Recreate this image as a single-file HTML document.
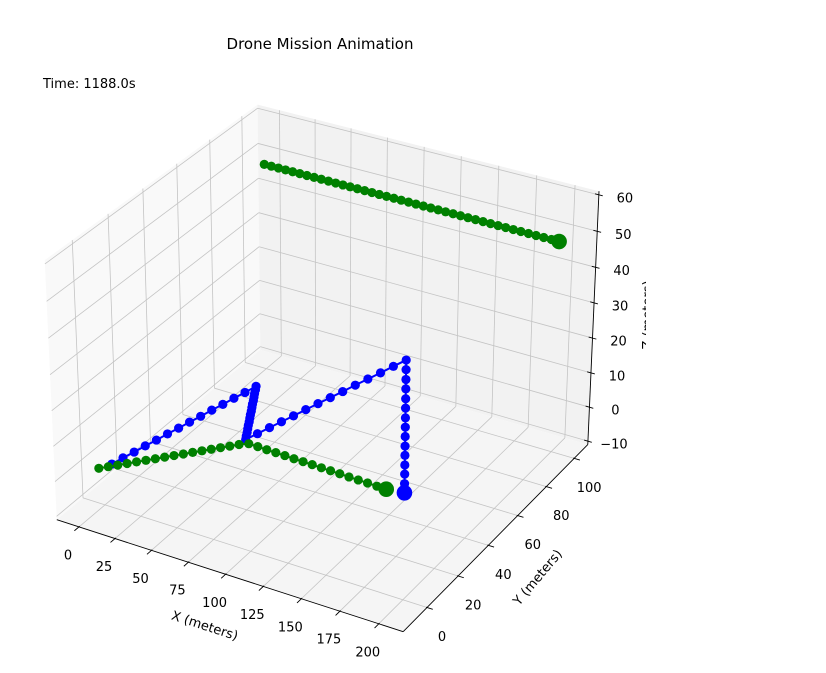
<!DOCTYPE html>
<html><head><meta charset="utf-8"><style>
html,body{margin:0;padding:0;background:#fff;}
svg{display:block;font-family:"DejaVu Sans","Liberation Sans",sans-serif;}
</style></head>
<body>
<svg id="chart" width="826" height="673" viewBox="0 0 826 673" xmlns="http://www.w3.org/2000/svg">
<rect width="826" height="673" fill="#ffffff"/>
<text x="320" y="49" font-size="15" text-anchor="middle" fill="#000">Drone Mission Animation</text>
<text x="43" y="88" font-size="13" fill="#000">Time: 1188.0s</text>
<g id="panes"></g>
<g id="grid"></g>
<g id="axes"></g>
<g id="series"></g>
<defs><clipPath id="zclip"><rect x="0" y="0" width="646" height="673"/></clipPath></defs>
<g clip-path="url(#zclip)"><text x="652" y="315" font-size="13" text-anchor="middle" transform="rotate(-90 652 315)">Z (meters)</text></g>
<text x="205" y="630" font-size="13" text-anchor="middle" transform="rotate(18 205 625)">X (meters)</text>
<text x="537" y="582" font-size="13" text-anchor="middle" transform="rotate(-50 537 577)">Y (meters)</text>
</svg>
<script>
// ---- data ----
const xTicks = [0,25,50,75,100,125,150,175,200];
const yTicks = [0,20,40,60,80,100];
const zTicks = [-10,0,10,20,30,40,50,60];
const xLim = [-15.5, 215.5];
const yLim = [-15, 110];
const zLim = [-11, 61];

const blueX = [2.5,7,11.5,16,20.5,25,29.5,34,38.5,43,47.5,52,56.5,61,
  60.9,60.7,60.6,60.5,60.3,60.2,60.1,59.9,59.8,59.7,59.5,59.4,59.3,59.1,59,
  67.2,75.5,83.7,91.9,100.2,108.4,116.6,124.8,133.1,141.3,149.5,157.8,166,
  166,166,166,166,166,166,166,166,166,166,166,166,166,166];
const blueY = [2.7,5.5,8.3,11.1,13.9,16.7,19.5,22.2,25,27.8,30.6,33.4,36.2,39,
  38.7,38.3,38,37.7,37.3,37,36.7,36.3,36,35.7,35.3,35,34.7,34.3,34,
  34,34,34,34,34,34,34,34,34,34,34,34,34,
  34,34,34,34,34,34,34,34,34,34,34,34,34,34];
const blueZ = [0,1.2,2.3,3.5,4.6,5.8,6.9,8.1,9.2,10.4,11.5,12.7,13.8,15,
  14.1,13.2,12.3,11.4,10.5,9.6,8.7,7.8,6.9,6,5.1,4.2,3.3,2.4,1.5,
  4.2,7,9.7,12.4,15.2,17.9,20.6,23.3,26.1,28.8,31.5,34.3,37,
  34.4,31.7,29.1,26.4,23.8,21.1,18.5,15.9,13.2,10.6,7.9,5.3,2.6,0];

const greenLowX = [-1.5,2.3,6.1,9.9,13.7,17.5,21.3,25.1,28.9,32.7,36.5,40.3,44.1,47.9,51.7,55.5,60,
  66.3,72.7,79,85.3,91.7,98,104.3,110.7,117,123.3,129.7,136,142.3,148.7,155];
const greenLowY = [-1.5,0.8,3.1,5.4,7.7,10,12.3,14.6,16.9,19.2,21.5,23.8,26.1,28.4,30.7,33,35,
  34.9,34.7,34.6,34.5,34.3,34.2,34.1,33.9,33.8,33.7,33.5,33.4,33.3,33.1,33];
const greenLowZ = [0,0,0,0,0,0,0,0,0,0,0,0,0,0,0,0,0,0,0,0,0,0,0,0,0,0,0,0,0,0,0,0];

const greenTopX = [0,5,10,15,20,25,30,35,40,45,50,55,60,65,70,75,80,85,90,95,100,105,110,115,120,125,130,135,140,145,150,155,160,165,170,175,180,185,190,195,200];
const greenTopY = [100,100,100,100,100,100,100,100,100,100,100,100,100,100,100,100,100,100,100,100,100,100,100,100,100,100,100,100,100,100,100,100,100,100,100,100,100,100,100,100,100];
const greenTopZ = [49,49,49,49,49,49,49,49,49,49,49,49,49,49,49,49,49,49,49,49,49,49,49,49,49,49,49,49,49,49,49,49,49,49,49,49,49,49,49,49,49];

// ---- projection (matplotlib-like, elev 30, azim -60, perspective) ----
const AS = [1.1429,1.1429,0.8571];
const el = 30*Math.PI/180, az = -60*Math.PI/180;
const ps = [Math.cos(el)*Math.cos(az), Math.cos(el)*Math.sin(az), Math.sin(el)];
const E = [AS[0]/2+10*ps[0], AS[1]/2+10*ps[1], AS[2]/2+10*ps[2]];
const W = ps;
let U = [-W[1], W[0], 0]; const un = Math.hypot(U[0],U[1]); U = [U[0]/un,U[1]/un,0];
const V = [W[1]*U[2]-W[2]*U[1], W[2]*U[0]-W[0]*U[2], W[0]*U[1]-W[1]*U[0]];
function proj(x,y,z){
  const b=[(x-xLim[0])/(xLim[1]-xLim[0])*AS[0],(y-yLim[0])/(yLim[1]-yLim[0])*AS[1],(z-zLim[0])/(zLim[1]-zLim[0])*AS[2]];
  const d=[b[0]-E[0],b[1]-E[1],b[2]-E[2]];
  const xv=U[0]*d[0]+U[1]*d[1]+U[2]*d[2];
  const yv=V[0]*d[0]+V[1]*d[1]+V[2]*d[2];
  const dp=-(W[0]*d[0]+W[1]*d[1]+W[2]*d[2]);
  return [327+3473*xv/dp, 356-3453*yv/dp];
}
const NS="http://www.w3.org/2000/svg";
function mk(tag, parent, attrs){const e=document.createElementNS(NS,tag);for(const k in attrs)e.setAttribute(k,attrs[k]);parent.appendChild(e);return e;}
function poly(pts){return pts.map(p=>p[0].toFixed(2)+","+p[1].toFixed(2)).join(" ");}

const gP=document.getElementById('panes'), gG=document.getElementById('grid'), gA=document.getElementById('axes'), gS=document.getElementById('series');
const [x0,x1]=xLim,[y0,y1]=yLim,[z0,z1]=zLim;
let el2;
el2=mk('polygon',gP,{points:poly([proj(x0,y0,z0),proj(x0,y1,z0),proj(x0,y1,z1),proj(x0,y0,z1)]),fill:'#f9f9f9'});


el2=mk('polygon',gP,{points:poly([proj(x0,y1,z0),proj(x1,y1,z0),proj(x1,y1,z1),proj(x0,y1,z1)]),fill:'#f2f2f2'});


el2=mk('polygon',gP,{points:poly([proj(x0,y0,z0),proj(x1,y0,z0),proj(x1,y1,z0),proj(x0,y1,z0)]),fill:'#f5f5f5'});



function gl(a,b){const l=mk('line',gG,{x1:a[0],y1:a[1],x2:b[0],y2:b[1],stroke:'#c4c4c4','stroke-width':0.8});

}
yTicks.forEach(t=>{gl(proj(x0,t,z0),proj(x0,t,z1));gl(proj(x0,t,z0),proj(x1,t,z0));});
zTicks.forEach(t=>{gl(proj(x0,y0,t),proj(x0,y1,t));gl(proj(x0,y1,t),proj(x1,y1,t));});
xTicks.forEach(t=>{gl(proj(t,y1,z0),proj(t,y1,z1));gl(proj(t,y0,z0),proj(t,y1,z0));});

function al(a,b,name){const l=mk('line',gA,{x1:a[0],y1:a[1],x2:b[0],y2:b[1],stroke:'#000','stroke-width':0.9});

}
al(proj(x0,y0,z0),proj(x1,y0,z0),'x-axis-line');
al(proj(x1,y0,z0),proj(x1,y1,z0),'y-axis-line');
al(proj(x1,y1,z0),proj(x1,y1,z1),'z-axis-line');

function unit(a,b){const dx=a[0]-b[0],dy=a[1]-b[1],n=Math.hypot(dx,dy);return [dx/n,dy/n];}
function tick(p,dir,inn,out){const l=mk('line',gA,{x1:p[0]-dir[0]*inn,y1:p[1]-dir[1]*inn,x2:p[0]+dir[0]*out,y2:p[1]+dir[1]*out,stroke:'#000','stroke-width':0.9});

}
function lab(x,y,s,name){const t=mk('text',gA,{x:x,y:y,'font-size':13,'text-anchor':'middle','dominant-baseline':'central',fill:'#000'});t.textContent=s;

}
xTicks.forEach(t=>{const p=proj(t,y0,z0);const d=unit(proj(t,y0,z0),proj(t,y1,z0));tick(p,d,1,6);lab(p[0]-11,p[1]+29,String(t),'x-tick-label');});
yTicks.forEach(t=>{const p=proj(x1,t,z0);const d=unit(proj(x1,t,z0),proj(x0,t,z0));tick(p,d,1,6);lab(p[0]+15,p[1]+30,String(t),'y-tick-label');});
zTicks.forEach(t=>{const p=proj(x1,y1,t);const d=unit(proj(x1,y1,t),proj(x0,y1,t));tick(p,d,4,4);lab(p[0]+26,p[1]+4,String(t).replace('-','\u2212'),'z-tick-label');});

function series(xs,ys,zs,color,name){
  const pts=xs.map((x,i)=>proj(x,ys[i],zs[i]));
  const g=mk('g',gS,{});
  
  
  const pl=mk('polyline',g,{points:poly(pts),fill:'none',stroke:color,'stroke-width':2});
  
  
  pts.forEach(p=>{const c=mk('circle',g,{cx:p[0],cy:p[1],r:4.6,fill:color});
    
    });
  return pts[pts.length-1];
}
const gTopEnd=series(greenTopX,greenTopY,greenTopZ,'#008000','green-top-trail');
const bEnd=series(blueX,blueY,blueZ,'#0000ff','blue-trail');
const gLowEnd=series(greenLowX,greenLowY,greenLowZ,'#008000','green-low-trail');
[[gTopEnd,'#008000','green-top-drone'],[gLowEnd,'#008000','green-low-drone'],[bEnd,'#0000ff','blue-drone']].forEach(([p,c,n])=>{
  const m=mk('circle',gS,{cx:p[0],cy:p[1],r:7.8,fill:c});
  
  
});
</script>
</body></html>
